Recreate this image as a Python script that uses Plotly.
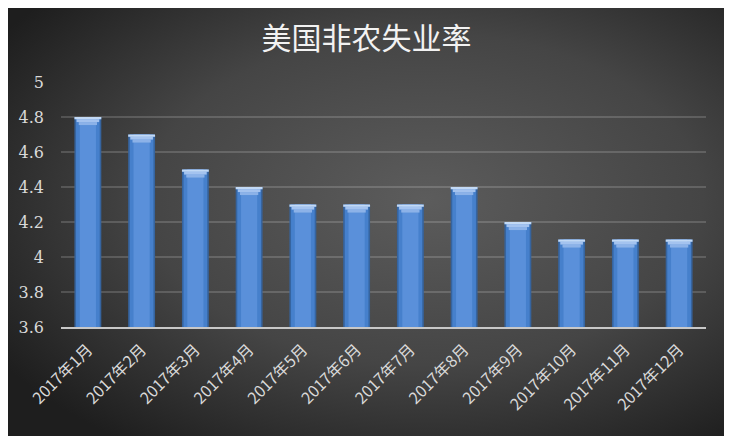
import base64

import plotly.graph_objects as go

# monthly values
months = [f"2017年{m}月" for m in range(1, 13)]
rates = [4.8, 4.7, 4.5, 4.4, 4.3, 4.3, 4.3, 4.4, 4.2, 4.1, 4.1, 4.1]
y_ticks = [3.6, 3.8, 4.0, 4.2, 4.4, 4.6, 4.8, 5.0]
y_tick_text = ["3.6", "3.8", "4", "4.2", "4.4", "4.6", "4.8", "5"]
title_text = "美国非农失业率"

# the page body adds an 8px margin, so work in figure pixels = page - 8
OFF = 8
W, H = 732 - OFF, 441 - OFF
L, R, T, B = 61 - OFF, 706 - OFF, 82 - OFF, 327 - OFF
pw, ph = R - L, B - T

# dark radial backdrop, drawn as an svg behind the plot
svg = """<svg xmlns='http://www.w3.org/2000/svg' width='720' height='431'>
<defs><radialGradient id='g' cx='0.58' cy='0.45' r='0.7'>
<stop offset='0' stop-color='#5c5c5c'/><stop offset='0.55' stop-color='#454545'/>
<stop offset='1' stop-color='#1e1e1e'/></radialGradient></defs>
<rect width='720' height='431' fill='url(#g)'/></svg>"""
bg_src = "data:image/svg+xml;base64," + base64.b64encode(svg.encode()).decode()

fig = go.Figure()

# bar body: dark rim, then lighter core
for width, color in [(0.5, "#36649f"), (0.44, "#4680cc"), (0.3, "#5a90da")]:
    fig.add_trace(go.Bar(x=months, y=rates, width=width,
                         marker=dict(color=color, line=dict(width=0)),
                         hoverinfo="skip", showlegend=False))

# bevelled top cap, built from narrowing strips
caps = [(0.046, 0.017, 0.34, "#8cb2e8"),
        (0.029, 0.016, 0.42, "#a4c3ef"),
        (0.013, 0.013, 0.5, "#c2d9f5")]
for depth, h, width, color in caps:
    fig.add_trace(go.Bar(x=months, y=[h] * len(rates),
                         base=[v - depth for v in rates], width=width,
                         marker=dict(color=color, line=dict(width=0)),
                         hoverinfo="skip", showlegend=False))

fig.add_layout_image(dict(
    source=bg_src, xref="paper", yref="paper",
    x=(7 - OFF - L) / pw, y=(B - (5 - OFF)) / ph,
    sizex=720 / pw, sizey=431 / ph,
    sizing="stretch", xanchor="left", yanchor="top", layer="below",
))

fig.update_layout(
    width=W, height=H,
    margin=dict(l=L, r=W - R, t=T, b=H - B, autoexpand=False),
    paper_bgcolor="white",
    plot_bgcolor="rgba(0,0,0,0)",
    barmode="overlay",
    title=dict(text=title_text, x=(366.5 - OFF) / W, xref="container",
               xanchor="center", y=1 - (38 - OFF) / H, yref="container",
               yanchor="middle",
               font=dict(family="Noto Sans CJK SC", size=30, color="#f2f2f2")),
    xaxis=dict(
        tickangle=-45, showgrid=False, zeroline=False,
        showline=True, linecolor="#c8c8c8", linewidth=2,
        tickfont=dict(family="Noto Sans CJK SC", size=16, color="#d9d9d9"),
        ticks="outside", ticklen=5, tickcolor="rgba(0,0,0,0)",
        fixedrange=True, automargin=False,
    ),
    yaxis=dict(
        range=[3.6, 5.0], tickvals=y_ticks, ticktext=y_tick_text,
        showgrid=True, gridcolor="rgba(255,255,255,0.16)", gridwidth=1.5,
        zeroline=False, showline=False, ticks="",
        ticklabelstandoff=16, automargin=False,
        tickfont=dict(family="DejaVu Serif", size=16, color="#d9d9d9"),
        fixedrange=True,
    ),
)

fig.write_html("out.html")
